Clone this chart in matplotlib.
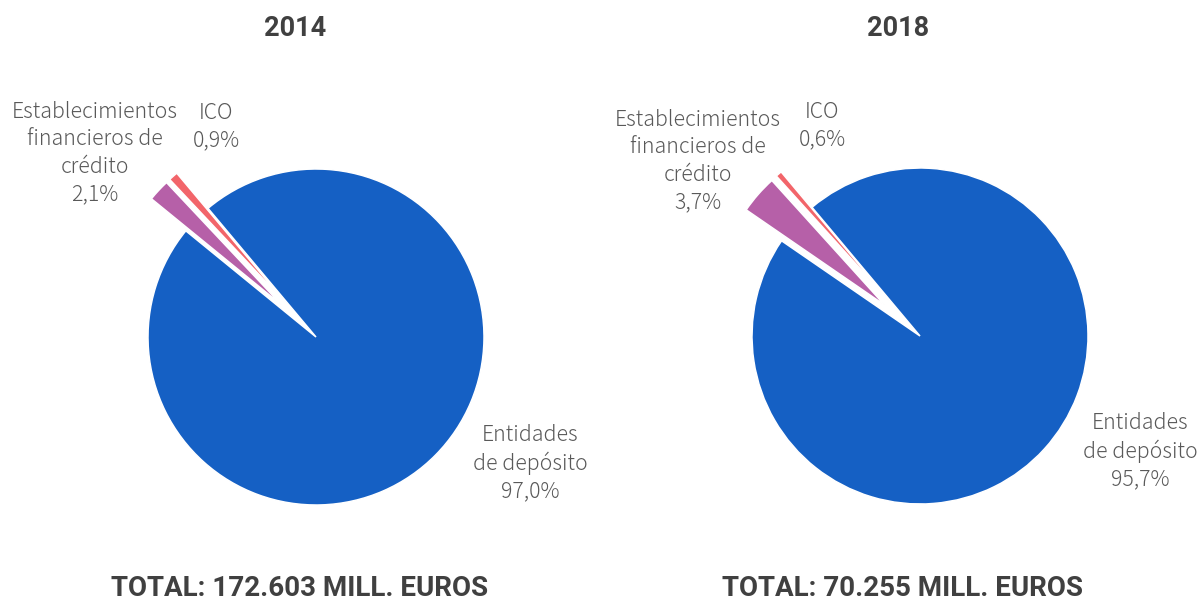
import matplotlib
matplotlib.use("Agg")
import matplotlib.pyplot as plt

W, H = 1199, 601

years = ["2014", "2018"]
categories = ["Entidades\nde depósito", "Establecimientos\nfinancieros de\ncrédito", "ICO"]
shares_2014 = [97.0, 2.1, 0.9]
shares_2018 = [95.7, 3.7, 0.6]
totals = ["TOTAL: 172.603 MILL. EUROS", "TOTAL: 70.255 MILL. EUROS"]
colors = ["#1560C4", "#B660A8", "#F2656A"]

LABEL_FONT = ["Noto Sans CJK JP", "DejaVu Sans"]
TITLE_FONT = ["Roboto", "DejaVu Sans"]
LABEL_COLOR = "#595959"
TITLE_COLOR = "#404040"

fig = plt.figure(figsize=(W / 100, H / 100), dpi=100)

def fmt(v):
    return f"{v:.1f}".replace(".", ",") + "%"

# layout (pixels)
centers = [(316, 337), (920, 336)]
radius_px = 168
half = 1.5
title_x = [295, 898]
total_x = [300, 903]
label_pos = [
    {"ent": (530, 463), "est": (95, 153), "ico": (216, 127)},
    {"ent": (1140, 451), "est": (698, 161), "ico": (822, 126)},
]

for i, (year, shares) in enumerate(zip(years, [shares_2014, shares_2018])):
    cx, cy = centers[i]
    size = 2 * half * radius_px
    ax = fig.add_axes([(cx - size / 2) / W, (H - cy - size / 2) / H, size / W, size / H])
    ax.pie(shares, colors=colors, startangle=130, counterclock=False,
           explode=[0, 0.28, 0.28], radius=1.0,
           wedgeprops=dict(edgecolor="white", linewidth=1.1))
    ax.set_xlim(-half, half)
    ax.set_ylim(-half, half)
    ax.set_aspect("equal")
    ax.axis("off")

    fig.text(title_x[i] / W, 1 - 28 / H, year, ha="center", va="center",
             fontsize=19.5, fontweight="bold", color=TITLE_COLOR, family=TITLE_FONT)
    fig.text(total_x[i] / W, 1 - 588 / H, totals[i], ha="center", va="center",
             fontsize=20, fontweight="bold", color=TITLE_COLOR, family=TITLE_FONT)

    lp = label_pos[i]
    for key, cat, val in zip(["ent", "est", "ico"], categories, shares):
        x, y = lp[key]
        fig.text(x / W, 1 - y / H, cat + "\n" + fmt(val), ha="center", va="center",
                 fontsize=15.3, color=LABEL_COLOR, family=LABEL_FONT,
                 fontweight="light", linespacing=1.32)

fig.savefig("out.png", dpi=100)
